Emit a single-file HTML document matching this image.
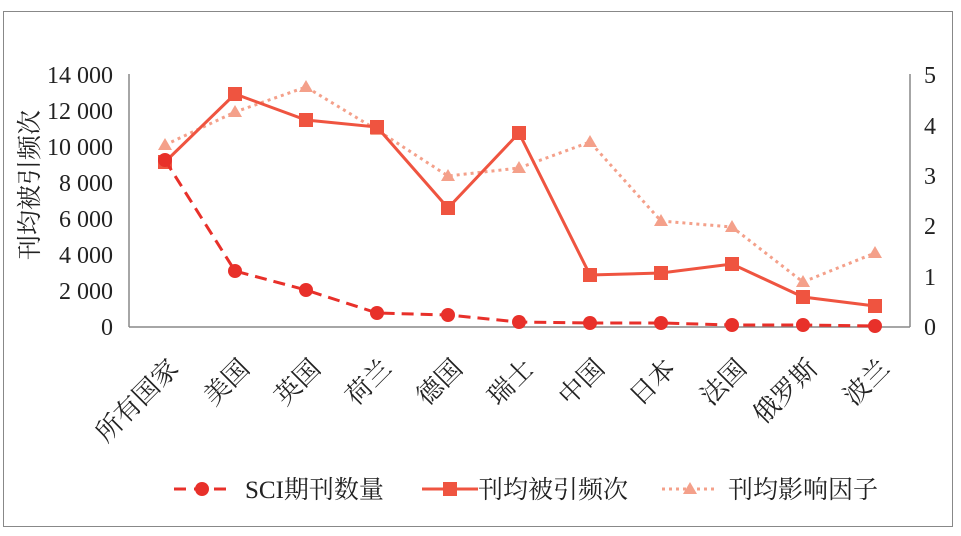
<!DOCTYPE html><html><head><meta charset="utf-8"><style>body{margin:0;background:#fff}svg{display:block;font-family:"Liberation Serif","Noto Serif CJK SC",serif}</style></head><body>
<svg width="961" height="536" viewBox="0 0 961 536">
<rect x="3.5" y="11.5" width="949" height="515" fill="#fff" stroke="#888" stroke-width="1"/>
<g stroke="#888" stroke-width="1.5"><line x1="129" y1="74" x2="129" y2="327"/><line x1="910" y1="74" x2="910" y2="327"/><line x1="129" y1="327" x2="910" y2="327"/></g>
<g font-size="24" fill="#222" text-anchor="end">
<text x="113" y="83">14 000</text><text x="113" y="119">12 000</text><text x="113" y="155">10 000</text><text x="113" y="191">8 000</text><text x="113" y="227">6 000</text><text x="113" y="263">4 000</text><text x="113" y="299">2 000</text><text x="113" y="335">0</text></g>
<g font-size="24" fill="#222"><text x="924" y="83">5</text><text x="924" y="134">4</text><text x="924" y="184">3</text><text x="924" y="234">2</text><text x="924" y="285">1</text><text x="924" y="335">0</text></g>
<text transform="translate(38,185) rotate(-90)" font-size="25" fill="#222" text-anchor="middle">刊均被引频次</text>
<g font-size="26" fill="#222" text-anchor="end">
<text transform="translate(180,370) rotate(-45)">所有国家</text><text transform="translate(251,370) rotate(-45)">美国</text><text transform="translate(322,370) rotate(-45)">英国</text><text transform="translate(393,370) rotate(-45)">荷兰</text><text transform="translate(464,370) rotate(-45)">德国</text><text transform="translate(535,370) rotate(-45)">瑞士</text><text transform="translate(606,370) rotate(-45)">中国</text><text transform="translate(677,370) rotate(-45)">日本</text><text transform="translate(748,370) rotate(-45)">法国</text><text transform="translate(819,370) rotate(-45)">俄罗斯</text><text transform="translate(891,370) rotate(-45)">波兰</text></g>
<polyline fill="none" stroke="#F4A08A" stroke-width="3" stroke-dasharray="3,4" points="165,145 235,112 306,87 377,130 448,176 519,168 590,142 661,221 732,227 803,282 875,253"/>
<g fill="#F4A08A"><path d="M165,138l7,12h-14z"/><path d="M235,105l7,12h-14z"/><path d="M306,80l7,12h-14z"/><path d="M377,123l7,12h-14z"/><path d="M448,169l7,12h-14z"/><path d="M519,161l7,12h-14z"/><path d="M590,135l7,12h-14z"/><path d="M661,214l7,12h-14z"/><path d="M732,220l7,12h-14z"/><path d="M803,275l7,12h-14z"/><path d="M875,246l7,12h-14z"/></g>
<polyline fill="none" stroke="#EF5440" stroke-width="3" points="165,162 235,94 306,120 377,127 448,208 519,133 590,275 661,273 732,264 803,297 875,306"/>
<g fill="#EF5440"><rect x="158" y="155" width="14" height="14"/><rect x="228" y="87" width="14" height="14"/><rect x="299" y="113" width="14" height="14"/><rect x="370" y="120" width="14" height="14"/><rect x="441" y="201" width="14" height="14"/><rect x="512" y="126" width="14" height="14"/><rect x="583" y="268" width="14" height="14"/><rect x="654" y="266" width="14" height="14"/><rect x="725" y="257" width="14" height="14"/><rect x="796" y="290" width="14" height="14"/><rect x="868" y="299" width="14" height="14"/></g>
<polyline fill="none" stroke="#E8302A" stroke-width="3" stroke-dasharray="12,7" points="165,160 235,271 306,290 377,313 448,315 519,322 590,323 661,323 732,325 803,325 875,326"/>
<g fill="#E8302A"><circle cx="165" cy="160" r="7"/><circle cx="235" cy="271" r="7"/><circle cx="306" cy="290" r="7"/><circle cx="377" cy="313" r="7"/><circle cx="448" cy="315" r="7"/><circle cx="519" cy="322" r="7"/><circle cx="590" cy="323" r="7"/><circle cx="661" cy="323" r="7"/><circle cx="732" cy="325" r="7"/><circle cx="803" cy="325" r="7"/><circle cx="875" cy="326" r="7"/></g>
<g font-size="25" fill="#222">
<line x1="174" y1="489" x2="230" y2="489" stroke="#E8302A" stroke-width="3" stroke-dasharray="12,8"/><circle cx="202" cy="489" r="7" fill="#E8302A"/><text x="245" y="498">SCI期刊数量</text>
<line x1="422" y1="489" x2="478" y2="489" stroke="#EF5440" stroke-width="3"/><rect x="443" y="482" width="14" height="14" fill="#EF5440"/><text x="478" y="498">刊均被引频次</text>
<line x1="662" y1="489" x2="718" y2="489" stroke="#F4A08A" stroke-width="3" stroke-dasharray="3,4"/><path d="M690,482l7,12h-14z" fill="#F4A08A"/><text x="728" y="498">刊均影响因子</text></g>
</svg></body></html>
